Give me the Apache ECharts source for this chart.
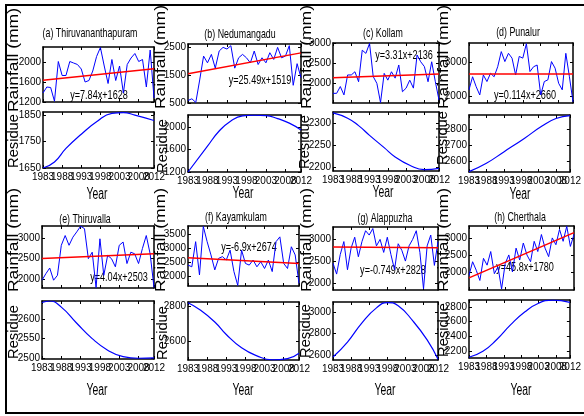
<!DOCTYPE html>
<html>
<head>
  <meta charset="utf-8" />
  <title>Rainfall trend and residue</title>
  <script src="https://cdn.jsdelivr.net/npm/echarts@6.0.0/dist/echarts.min.js"></script>
</head>
<style>
  body {
    margin: 0;
    padding: 0;
    overflow: hidden;
    background: #fff;
  }
</style>
<body>
  <div id="main" style="width: 584px;height: 416px;"></div>
  <script type="text/javascript">
    // ---- data ----
    const years = [1983, 1984, 1985, 1986, 1987, 1988, 1989, 1990, 1991, 1992, 1993, 1994, 1995, 1996, 1997,
      1998, 1999, 2000, 2001, 2002, 2003, 2004, 2005, 2006, 2007, 2008, 2009, 2010, 2011, 2012];
    const yearTicks = [1983, 1988, 1993, 1998, 2003, 2008, 2012];
    const stations = ['(a) Thiruvananthapuram', '(b) Nedumangadu', '(c) Kollam', '(d) Punalur',
      '(e) Thiruvalla', '(f) Kayamkulam', '(g) Alappuzha', '(h) Cherthala'];
    const equations = ['y=7.84x+1628', 'y=25.49x+1519', 'y=3.31x+2136', 'y=0.114x+2660',
      'y=4.04x+2503', 'y=-6.9x+2674', 'y=-0.749x+2828', 'y=45.8x+1780'];

    const rainA = [1380, 1500, 1490, 1215, 2010, 1730, 1730, 2010, 1980, 1950, 1860, 1600, 1630, 1820, 2110,
      2290, 1920, 1570, 2050, 1630, 1920, 1380, 1950, 2080, 2170, 2010, 2050, 1500, 2240, 1280];
    const rainB = [590, 650, 520, 1320, 2170, 1930, 2230, 1740, 2350, 2480, 2420, 2540, 1740, 2110, 2230,
      2110, 1930, 2350, 1870, 2110, 1930, 2290, 2050, 2480, 2110, 2170, 2540, 1130, 1900, 1400];
    const rainC = [1750, 1750, 1920, 1710, 2210, 2210, 2290, 2040, 2830, 2750, 3000, 2170, 2000, 1520, 2250,
      2080, 2290, 2130, 2460, 1790, 1880, 2080, 1880, 2710, 2540, 2420, 2040, 2540, 2040, 1580];
    const rainD = [2200, 2580, 2290, 2050, 2630, 2440, 2680, 2580, 2870, 3310, 3020, 3260, 3120, 2630, 3170,
      3120, 3540, 2730, 2870, 2920, 2050, 2440, 2490, 3020, 2830, 2390, 2200, 3260, 2580, 1850];
    const rainE = [1970, 2130, 2270, 1970, 2090, 2830, 3070, 2830, 3030, 3160, 3300, 3240, 2500, 2660, 1790,
      2990, 2090, 2580, 2500, 2300, 2830, 2910, 2380, 2660, 2620, 2380, 2750, 3070, 2620, 1790];
    const rainF = [2410, 2350, 3240, 2060, 3780, 3240, 2770, 2240, 2650, 2710, 2590, 2940, 2180, 1690, 2940,
      2470, 2410, 2590, 2350, 2530, 2290, 2590, 2180, 3240, 3410, 2470, 2290, 3060, 2770, 1760];
    const rainG = [2450, 2200, 2650, 2950, 2300, 2800, 3050, 2600, 2950, 3200, 3100, 3250, 2850, 3000, 2700,
      3050, 2650, 2300, 2900, 2750, 2500, 2850, 3000, 3200, 2700, 1860, 2850, 3100, 2400, 2950];
    const rainH = [1900, 2300, 2050, 1750, 2400, 2200, 2600, 1950, 2150, 1500, 2250, 2500, 2000, 2700, 2350,
      2850, 2500, 2300, 2900, 2600, 3100, 2700, 2450, 3000, 2800, 3250, 2900, 3340, 2750, 3100];

    // linear fits, values at 1983 and 2012
    const trendYears = [1983, 2012];
    const trendA = [1636, 1863];
    const trendB = [1544, 2284];
    const trendC = [2139, 2235];
    const trendD = [2660, 2663];
    const trendE = [2507, 2624];
    const trendF = [2667, 2467];
    const trendG = [2827, 2806];
    const trendH = [1826, 3154];

    // residue curves (sampled points, drawn smoothed)
    const resYearsA = [1983, 1986, 1989, 1993, 1997, 2001, 2004, 2007, 2012];
    const resA = [1650, 1673, 1724, 1778, 1825, 1857, 1860, 1850, 1830];
    const resYearsB = [1983, 1988, 1991, 1994, 1997, 2000, 2003, 2006, 2009, 2012];
    const resB = [1200, 1660, 1930, 2110, 2200, 2213, 2205, 2150, 2070, 1950];
    const resYearsC = [1983, 1987, 1990, 1993, 1997, 2000, 2004, 2008, 2012];
    const resC = [2324, 2312, 2295, 2273, 2245, 2224, 2205, 2195, 2198];
    const resYearsD = [1983, 1988, 1993, 1999, 2004, 2008, 2012];
    const resD = [2538, 2590, 2660, 2745, 2820, 2866, 2884];
    const resYearsE = [1983, 1985, 1988, 1992, 1996, 2000, 2004, 2008, 2012];
    const resE = [2644, 2648, 2632, 2590, 2550, 2520, 2503, 2499, 2500];
    const resYearsF = [1983, 1986, 1990, 1993, 1997, 2001, 2005, 2009, 2012];
    const resF = [2818, 2780, 2710, 2640, 2565, 2520, 2498, 2505, 2535];
    const resYearsG = [1983, 1987, 1991, 1995, 1998, 2001, 2005, 2009, 2012];
    const resG = [2580, 2720, 2900, 3040, 3090, 3060, 2920, 2740, 2560];
    const resYearsH = [1983, 1987, 1991, 1995, 1999, 2003, 2007, 2012];
    const resH = [2120, 2200, 2360, 2560, 2730, 2850, 2890, 2860];

    // y tick labels
    const rainTicks = [[1200, 1600, 2000], [500, 1500, 2500], [2000, 2500, 3000], [2000, 3000],
      [2000, 2500, 3000], [2000, 2500, 3000, 3500], [2000, 2500, 3000], [2000, 2500, 3000]];
    const resTicks = [[1650, 1750, 1850], [1200, 1600, 2000], [2200, 2250, 2300], [2600, 2700, 2800],
      [2500, 2550, 2600], [2600, 2800], [2600, 2800, 3000], [2200, 2400, 2600, 2800]];

    const rains = [rainA, rainB, rainC, rainD, rainE, rainF, rainG, rainH];
    const trends = [trendA, trendB, trendC, trendD, trendE, trendF, trendG, trendH];
    const resYears = [resYearsA, resYearsB, resYearsC, resYearsD, resYearsE, resYearsF, resYearsG, resYearsH];
    const residues = [resA, resB, resC, resD, resE, resF, resG, resH];

    // ---- layout ----
    // axis extents
    const rainRange = [[1200, 2300], [500, 2600], [1508, 3010], [1817, 3560],
      [1778, 3305], [1670, 3795], [1833, 3286], [1470, 3350]];
    const resRange = [[1650, 1862], [1200, 2215], [2192, 2326], [2536, 2888],
      [2497, 2648], [2497, 2822], [2552, 3095], [2110, 2893]];
    // [left, top, width, height]
    const rainBox = [[43, 47, 111, 55], [188, 44, 113, 59], [333, 43, 106, 60], [469, 43, 104, 60],
      [42, 226, 112, 62], [188, 226, 111, 60], [333, 227, 105, 63], [469, 226, 105, 64]];
    const resBox = [[43, 112, 111, 56], [188, 115, 113, 57], [333, 112, 106, 59], [469, 115, 105, 57],
      [42, 301, 112, 58], [188, 302, 111, 58], [333, 302, 105, 58], [469, 300, 105, 58]];
    const titlePos = [[90, 33], [240, 34], [383, 33], [518, 32], [85, 219], [236, 217], [385, 218], [520, 217]];
    const eqPos = [[99, 95], [260, 80], [404, 55], [525, 95], [119, 277], [249, 247], [393, 270], [525, 267]];
    const rainLabelPos = [[14, 60], [161, 57], [307, 57], [444, 57], [14, 240], [161, 240], [307, 240], [444, 240]];
    const resLabelPos = [[14, 141], [163, 146], [305, 142], [443, 138], [14, 332], [163, 333], [306, 331], [444, 330]];
    const yearPos = [[97, 195], [243, 194], [383, 193], [520, 195], [97, 391], [243, 391], [385, 391], [521, 391]];

    const sans = "'Liberation Sans', Arial, sans-serif";
    const black = { color: '#000' };

    const grid = [], xAxis = [], yAxis = [], series = [], graphic = [];

    function tickLabel(values, show, margin) {
      return {
        show: show, customValues: values, formatter: v => String(v),
        hideOverlap: false, showMinLabel: true, showMaxLabel: true,
        fontFamily: sans, fontSize: 10, color: '#000', margin: margin
      };
    }

    function addGrid(box, range, ticks, showX) {
      const gi = grid.length;
      grid.push({ left: box[0], top: box[1], width: box[2], height: box[3] });
      const line = { show: true, onZero: false, lineStyle: { color: '#000', width: 1.5 } };
      const tick = { show: true, inside: true, length: 3, customValues: yearTicks, lineStyle: black };
      // bottom axis with every other year label, a box top, and a second bottom axis carrying the rest
      xAxis.push({
        type: 'value', gridIndex: gi, position: 'bottom', min: 1983, max: 2012, axisLine: line, axisTick: tick,
        axisLabel: tickLabel(yearTicks.filter((v, k) => k % 2 === 0), showX, 4), splitLine: { show: false }
      });
      xAxis.push({
        type: 'value', gridIndex: gi, position: 'top', min: 1983, max: 2012, axisLine: line, axisTick: tick,
        axisLabel: { show: false }, splitLine: { show: false }
      });
      xAxis.push({
        type: 'value', gridIndex: gi, position: 'bottom', offset: 0, min: 1983, max: 2012,
        axisLine: { show: false }, axisTick: { show: false },
        axisLabel: tickLabel(yearTicks.filter((v, k) => k % 2 === 1), showX, 4), splitLine: { show: false }
      });
      ['left', 'right'].forEach((pos, k) => {
        yAxis.push({
          type: 'value', gridIndex: gi, position: pos, min: range[0], max: range[1],
          axisLine: line,
          axisTick: { show: true, inside: true, length: 3, customValues: ticks, lineStyle: black },
          axisLabel: tickLabel(ticks, k === 0, 2),
          splitLine: { show: false }
        });
      });
      return gi;
    }

    function text(str, pos, size, scaleX, rotate) {
      graphic.push({
        type: 'text', x: pos[0], y: pos[1], scaleX: scaleX, rotation: rotate ? Math.PI / 2 : 0,
        style: {
          text: str, fontSize: size, fontFamily: sans, fill: '#000',
          align: 'center', verticalAlign: 'middle', textAlign: 'center', textVerticalAlign: 'middle'
        }
      });
    }

    for (let i = 0; i < 8; i++) {
      const g1 = addGrid(rainBox[i], rainRange[i], rainTicks[i], false);
      series.push({
        type: 'line', xAxisIndex: 3 * g1, yAxisIndex: 2 * g1, showSymbol: false, symbol: 'none',
        lineStyle: { color: '#0000ff', width: 1 }, data: years.map((y, k) => [y, rains[i][k]])
      });
      series.push({
        type: 'line', xAxisIndex: 3 * g1, yAxisIndex: 2 * g1, showSymbol: false, symbol: 'none',
        lineStyle: { color: '#ff0000', width: 1.5 }, data: trendYears.map((y, k) => [y, trends[i][k]])
      });
      const g2 = addGrid(resBox[i], resRange[i], resTicks[i], true);
      series.push({
        type: 'line', xAxisIndex: 3 * g2, yAxisIndex: 2 * g2, showSymbol: false, symbol: 'none', smooth: true,
        lineStyle: { color: '#0000ff', width: 1.2 }, data: resYears[i].map((y, k) => [y, residues[i][k]])
      });

      text(stations[i], titlePos[i], 13, 0.68, false);
      text(equations[i], eqPos[i], 13, 0.7, false);
      text('Rainfall (mm)', rainLabelPos[i], 14, 1.25, true);
      text('Residue', resLabelPos[i], 14, 1.05, true);
      text('Year', yearPos[i], 16, 0.65, false);
    }

    // outer frame
    [[5, 5, 584, 5], [6, 4, 6, 414], [5, 413, 584, 413]].forEach(s => {
      graphic.push({ type: 'line', shape: { x1: s[0], y1: s[1], x2: s[2], y2: s[3] }, style: { stroke: '#000', lineWidth: 2 } });
    });

    const myChart = echarts.init(document.getElementById('main'));
    myChart.setOption({
      animation: false,
      grid: grid,
      xAxis: xAxis,
      yAxis: yAxis,
      series: series,
      graphic: { elements: graphic }
    });
  </script>
</body>
</html>
